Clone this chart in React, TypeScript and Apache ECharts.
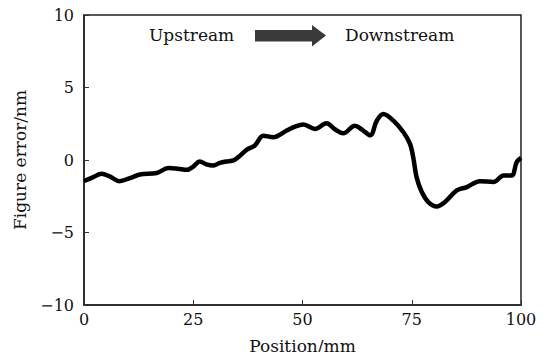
import React, { useEffect, useRef } from "react";
import * as echarts from "echarts";

const positions = [0, 2, 4, 6, 8.1, 10.5, 12.8, 16.6, 19.3, 21.5, 23.5, 25, 26.5, 28, 29.6, 31.1, 32.6, 34.2, 35.7, 37.2, 39.1, 41, 43.3, 46.4, 48.3, 50.2, 52.9, 55.5, 57.5, 59.3, 62, 63.6, 65.5, 67, 68.5, 70.8, 73.1, 74.6, 75.4, 76.1, 77.3, 78.8, 80.7, 82.6, 85.3, 87.6, 90.6, 93.7, 96, 97.9, 99, 100];
const figureError = [-1.45, -1.2, -0.95, -1.15, -1.46, -1.25, -1.0, -0.9, -0.56, -0.6, -0.68, -0.45, -0.1, -0.3, -0.38, -0.2, -0.1, -0.03, 0.3, 0.7, 1.0, 1.68, 1.57, 2.03, 2.3, 2.44, 2.14, 2.53, 2.1, 1.84, 2.37, 2.1, 1.7, 2.71, 3.17, 2.71, 1.91, 1.11, 0.08, -1.18, -2.21, -2.9, -3.2, -2.9, -2.1, -1.87, -1.46, -1.52, -1.07, -1.07, -0.15, 0.15];
const xTicks = [0, 25, 50, 75, 100];
const yTicks = [-10, -5, 0, 5, 10];
const xName = "Position/mm";
const yName = "Figure error/nm";
const leftNote = "Upstream";
const rightNote = "Downstream";

const FONT = "DejaVu Serif";
const fmt = (v: number) => String(v).replace("-", "\u2212");

export default function App() {
  const ref = useRef<HTMLDivElement>(null);
  useEffect(() => {
    if (!ref.current) return;
    const chart = echarts.init(ref.current, null, { renderer: "svg" });
    chart.setOption({
      animation: false,
      backgroundColor: "#ffffff",
      grid: {
        left: 84,
        right: 27,
        top: 15,
        bottom: 55,
        show: true,
        borderColor: "#222",
        borderWidth: 1.5,
        backgroundColor: "transparent",
      },
      xAxis: {
        type: "value",
        min: xTicks[0],
        max: xTicks[xTicks.length - 1],
        interval: 25,
        name: xName,
        nameLocation: "middle",
        nameGap: 32,
        nameTextStyle: { fontFamily: FONT, fontSize: 17, color: "#111" },
        axisLine: { show: true, onZero: false, lineStyle: { color: "#222", width: 1.5 } },
        axisTick: { show: true, inside: true, length: 5, lineStyle: { color: "#333" } },
        axisLabel: { fontFamily: FONT, fontSize: 16, color: "#111", margin: 6, formatter: fmt },
        splitLine: { show: false },
      },
      yAxis: {
        type: "value",
        min: yTicks[0],
        max: yTicks[yTicks.length - 1],
        interval: 5,
        name: yName,
        nameLocation: "middle",
        nameGap: 56,
        nameTextStyle: { fontFamily: FONT, fontSize: 17, color: "#111" },
        axisLine: { show: true, onZero: false, lineStyle: { color: "#222", width: 1.5 } },
        axisTick: { show: true, inside: true, length: 5, lineStyle: { color: "#333" } },
        axisLabel: { fontFamily: FONT, fontSize: 16, color: "#111", margin: 10, formatter: fmt },
        splitLine: { show: false },
      },
      graphic: [
        {
          type: "text",
          left: 149,
          top: 26,
          style: { text: leftNote, fontFamily: FONT, fontSize: 17, fill: "#111" },
        },
        {
          type: "text",
          left: 345,
          top: 26,
          style: { text: rightNote, fontFamily: FONT, fontSize: 17, fill: "#111" },
        },
        {
          type: "polygon",
          shape: {
            points: [
              [255, 30],
              [312, 30],
              [312, 25],
              [326, 35.5],
              [312, 46.5],
              [312, 41.5],
              [255, 41.5],
            ],
          },
          style: { fill: "#3a3a3a" },
        },
      ],
      series: [
        {
          type: "line",
          data: positions.map((x, i) => [x, figureError[i]]),
          smooth: 0.35,
          showSymbol: false,
          lineStyle: { color: "#000", width: 4.5 },
        },
      ],
    });
    return () => chart.dispose();
  }, []);
  return <div ref={ref} style={{ width: 548, height: 360, margin: -8 }} />;
}
